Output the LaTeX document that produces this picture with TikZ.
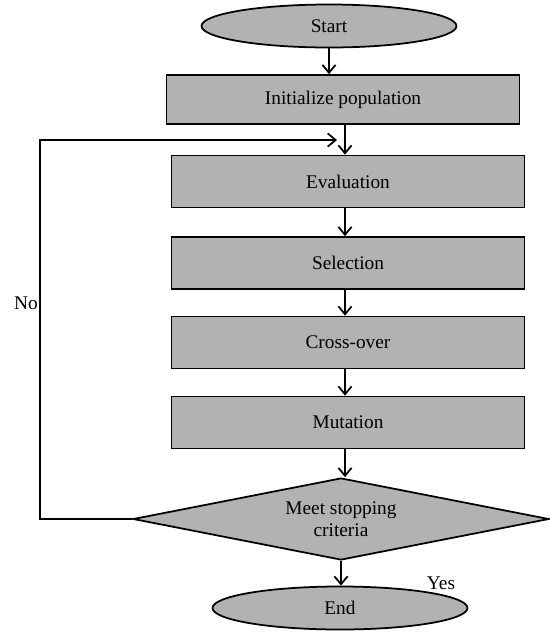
\documentclass[tikz,border=0pt]{standalone}
\usepackage{fontspec}
\setmainfont{Liberation Serif}
\usepackage{tikz}
\usetikzlibrary{arrows.meta}
\usetikzlibrary{calc,shapes}

\begin{document}
\begin{tikzpicture}[x=0.02cm,y=-0.02cm,line width=1pt,
	>={Straight Barb[length=4.5pt,width=7.5pt]},
	stepbox/.style={draw,fill=gray!60,rectangle,minimum width=7.06cm,minimum height=1.04cm,font=\fontsize{11}{12.5}\selectfont},
	endbox/.style={draw,fill=gray!60,ellipse,minimum width=5.1cm,minimum height=0.86cm,font=\fontsize{11}{12.5}\selectfont},
	testbox/.style={draw,fill=gray!60,diamond,aspect=5.1,inner sep=0pt,minimum width=8.32cm,minimum height=1.64cm,align=center,font=\fontsize{11}{12.5}\selectfont}]
\useasboundingbox (0,0) rectangle (550,633);
\node [endbox] (start) at (329,26) {Start};
\node [stepbox,minimum height=0.98cm] (init) at (343,99.5) {Initialize population};
\node [stepbox] (eval) at (348,181.5) {Evaluation};
\node [stepbox] (sel) at (348,263) {Selection};
\node [stepbox] (cross) at (348,342.5) {Cross-over};
\node [stepbox] (mut) at (348,422.5) {Mutation};
\node [testbox] (meet) at (341,519) {Meet stopping\\criteria};
\node [endbox] (end) at (340,608) {End};
\coordinate (spine) at (345,0);
\coordinate (loopin) at (337,140);
\draw [->] (start.south) -- (start.south |- init.north);
\draw [->] (init.south -| spine) -- (eval.north -| spine);
\draw [->] (eval.south -| spine) -- (sel.north -| spine);
\draw [->] (sel.south -| spine) -- (cross.north -| spine);
\draw [->] (cross.south -| spine) -- (mut.north -| spine);
\draw [->] (mut.south -| spine) -- (meet.north -| spine);
\draw [->] (meet.south) -- (meet.south |- end.north);
\draw [->] (meet.west) -- ++(-92,0) |- (loopin);
\node [font=\fontsize{11}{12.5}\selectfont] (no) at (26,303) {No};
\node [font=\fontsize{11}{12.5}\selectfont] (yes) at (441,583) {Yes};
\end{tikzpicture}
\end{document}
